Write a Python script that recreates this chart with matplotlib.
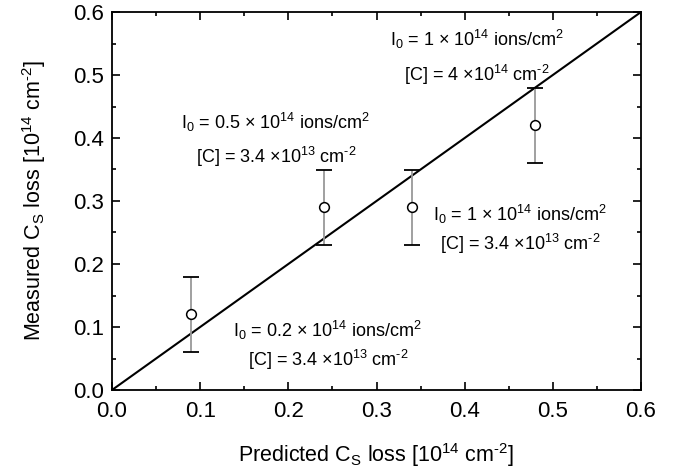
import matplotlib
matplotlib.use("Agg")
import matplotlib.pyplot as plt
from matplotlib.ticker import MultipleLocator

plt.rcParams['font.family'] = ['Liberation Sans', 'DejaVu Sans']
plt.rcParams['mathtext.fontset'] = 'custom'
plt.rcParams['mathtext.rm'] = 'Liberation Sans'
plt.rcParams['mathtext.it'] = 'Liberation Sans'
plt.rcParams['mathtext.bf'] = 'Liberation Sans'

predicted = [0.09, 0.24, 0.34, 0.48]
measured = [0.12, 0.29, 0.29, 0.42]
errors = [0.06, 0.06, 0.06, 0.06]
line_x = [0.0, 0.6]
line_y = [0.0, 0.6]

labels = [
    ("I$_0$ = 1 × 10$^{14}$ ions/cm$^2$", "[C] = 4 ×10$^{14}$ cm$^{\\text{-2}}$", 0.414, 0.556, 0.500),
    ("I$_0$ = 0.5 × 10$^{14}$ ions/cm$^2$", "[C] = 3.4 ×10$^{13}$ cm$^{\\text{-2}}$", 0.186, 0.425, 0.370),
    ("I$_0$ = 1 × 10$^{14}$ ions/cm$^2$", "[C] = 3.4 ×10$^{13}$ cm$^{\\text{-2}}$", 0.463, 0.278, 0.232),
    ("I$_0$ = 0.2 × 10$^{14}$ ions/cm$^2$", "[C] = 3.4 ×10$^{13}$ cm$^{\\text{-2}}$", 0.245, 0.094, 0.048),
]

fig = plt.figure(figsize=(6.78, 4.74), dpi=100)
ax = fig.add_axes([112/678, 1-390/474, 529/678, 378/474])

ax.plot(line_x, line_y, color='black', lw=1.5)
ax.errorbar(predicted, measured, yerr=errors, fmt='none', ecolor='#999999',
            elinewidth=1.3, capsize=0, zorder=2)
for x, y, e in zip(predicted, measured, errors):
    ax.plot([x, x], [y - e, y + e], marker='_', ms=11, mew=1.3, color='black', ls='none', zorder=3)
ax.plot(predicted, measured, 'o', mfc='white', mec='black', ms=7, mew=1.1, zorder=4)

for l1, l2, x, y1, y2 in labels:
    ax.text(x, y1, l1, ha='center', va='center', fontsize=13)
    ax.text(x, y2, l2, ha='center', va='center', fontsize=13)

ax.set_xlim(0, 0.6)
ax.set_ylim(0, 0.6)
ax.xaxis.set_major_locator(MultipleLocator(0.1))
ax.yaxis.set_major_locator(MultipleLocator(0.1))
ax.xaxis.set_minor_locator(MultipleLocator(0.05))
ax.yaxis.set_minor_locator(MultipleLocator(0.05))
ax.xaxis.set_major_formatter(plt.FuncFormatter(lambda v, p: f"{v:.1f}"))
ax.yaxis.set_major_formatter(plt.FuncFormatter(lambda v, p: f"{v:.1f}"))
ax.tick_params(which='both', direction='in', top=True, right=True, labelsize=16, width=1.2)
ax.tick_params(axis='x', which='major', length=6, pad=8)
ax.tick_params(axis='y', which='major', length=6, pad=6)
ax.tick_params(which='minor', length=3)
for s in ax.spines.values():
    s.set_linewidth(1.3)

ax.set_xlabel("Predicted C$_\\mathrm{S}$ loss [10$^{14}$ cm$^{\\text{-2}}$]", fontsize=15.5, labelpad=14)
ax.set_ylabel("Measured C$_\\mathrm{S}$ loss [10$^{14}$ cm$^{\\text{-2}}$]", fontsize=15.5, labelpad=18)

fig.savefig("out.png", dpi=100)
